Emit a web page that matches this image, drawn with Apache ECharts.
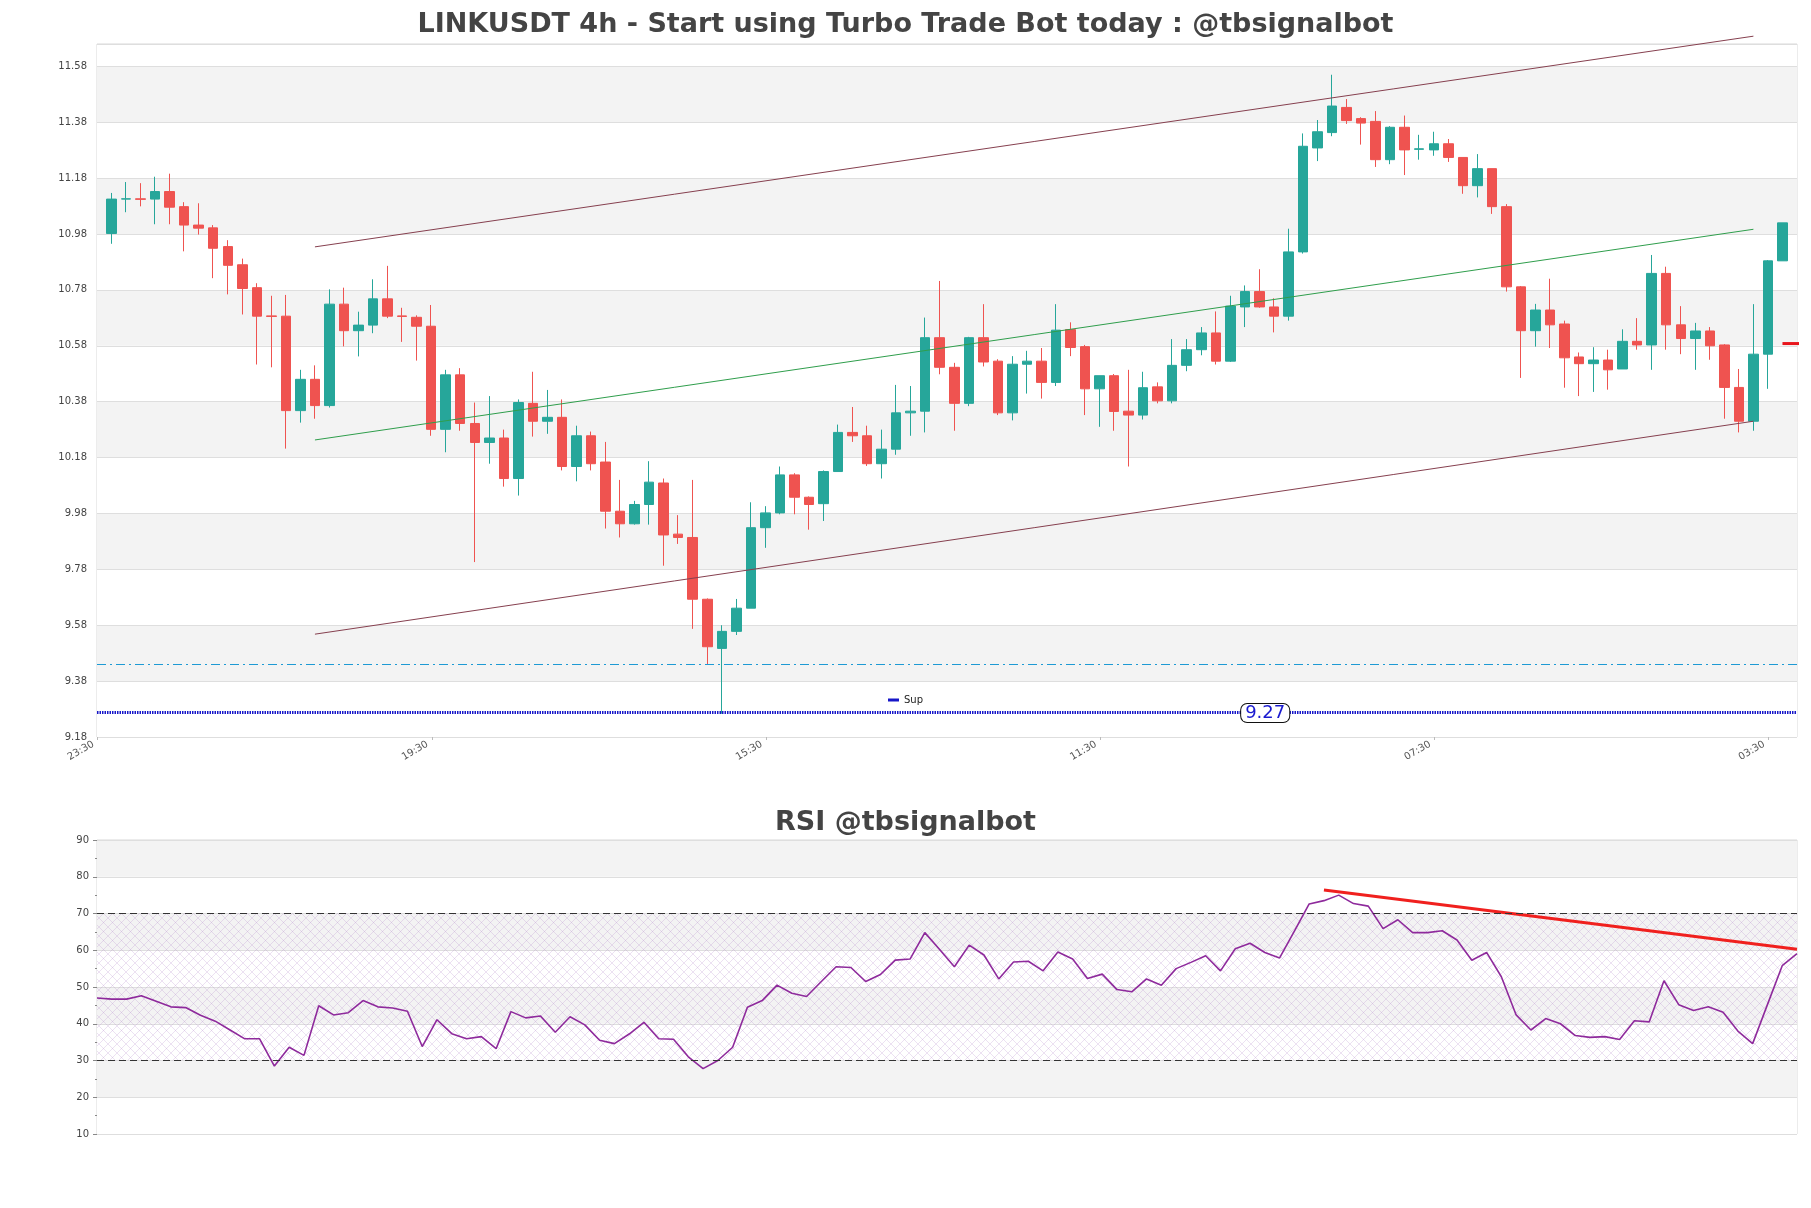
<!DOCTYPE html>
<html>
<head>
<meta charset="utf-8">
<script src="https://cdn.jsdelivr.net/npm/echarts@6/dist/echarts.min.js"></script>
<style>
html, body { margin: 0; padding: 0; background: #fff; }
#chart { width: 1811px; height: 1208px; }
</style>
</head>
<body>
<div id="chart"></div>
<script>
// LINKUSDT 4h candles, oldest first
var opens = [
    10.982, 11.105, 11.106, 11.105, 11.132, 11.078, 11.012, 11.002, 10.935, 10.870,
    10.788, 10.687, 10.686, 10.348, 10.460, 10.366, 10.729, 10.634, 10.654, 10.748,
    10.687, 10.682, 10.650, 10.281, 10.476, 10.302, 10.234, 10.250, 10.105, 10.374,
    10.310, 10.324, 10.148, 10.258, 10.164, 9.988, 9.943, 10.012, 10.089, 9.906,
    9.894, 9.673, 9.497, 9.558, 9.641, 9.929, 9.982, 10.118, 10.038, 10.015,
    10.130, 10.270, 10.258, 10.158, 10.210, 10.340, 10.346, 10.609, 10.503, 10.374,
    10.609, 10.525, 10.340, 10.514, 10.525, 10.449, 10.638, 10.577, 10.426, 10.473,
    10.346, 10.332, 10.433, 10.383, 10.510, 10.566, 10.626, 10.525, 10.719, 10.774,
    10.719, 10.686, 10.916, 11.288, 11.343, 11.433, 11.393, 11.383, 11.246, 11.362,
    11.283, 11.281, 11.303, 11.254, 11.153, 11.214, 11.078, 10.791, 10.634, 10.708,
    10.658, 10.540, 10.516, 10.529, 10.497, 10.596, 10.583, 10.839, 10.655, 10.606,
    10.633, 10.583, 10.431, 10.310, 10.550, 10.884
];
var closes = [
    11.105, 11.106, 11.104, 11.132, 11.076, 11.012, 11.001, 10.929, 10.868, 10.785,
    10.686, 10.685, 10.348, 10.460, 10.366, 10.729, 10.634, 10.654, 10.748, 10.686,
    10.685, 10.650, 10.281, 10.476, 10.302, 10.234, 10.250, 10.105, 10.377, 10.310,
    10.324, 10.148, 10.258, 10.158, 9.988, 9.943, 10.012, 10.092, 9.903, 9.894,
    9.673, 9.503, 9.558, 9.641, 9.929, 9.982, 10.118, 10.038, 10.012, 10.130,
    10.270, 10.258, 10.158, 10.210, 10.340, 10.346, 10.609, 10.503, 10.374, 10.609,
    10.522, 10.340, 10.514, 10.525, 10.449, 10.636, 10.574, 10.426, 10.473, 10.345,
    10.332, 10.430, 10.383, 10.510, 10.566, 10.626, 10.525, 10.722, 10.774, 10.719,
    10.686, 10.916, 11.294, 11.346, 11.438, 11.386, 11.377, 11.246, 11.362, 11.281,
    11.285, 11.303, 11.254, 11.153, 11.214, 11.078, 10.791, 10.634, 10.708, 10.655,
    10.537, 10.516, 10.529, 10.494, 10.596, 10.583, 10.839, 10.655, 10.606, 10.633,
    10.580, 10.431, 10.310, 10.550, 10.884, 11.020
];
var lows = [
    10.945, 11.058, 11.079, 11.015, 11.015, 10.918, 10.978, 10.822, 10.764, 10.692,
    10.513, 10.503, 10.212, 10.305, 10.319, 10.359, 10.578, 10.542, 10.625, 10.679,
    10.594, 10.527, 10.258, 10.199, 10.276, 9.806, 10.158, 10.076, 10.044, 10.255,
    10.265, 10.134, 10.095, 10.134, 9.926, 9.894, 9.940, 9.940, 9.793, 9.871,
    9.567, 9.441, 9.263, 9.545, 9.641, 9.857, 9.977, 9.977, 9.922, 9.953,
    10.130, 10.236, 10.150, 10.105, 10.190, 10.258, 10.270, 10.478, 10.276, 10.364,
    10.506, 10.332, 10.313, 10.409, 10.391, 10.436, 10.543, 10.332, 10.290, 10.276,
    10.148, 10.316, 10.374, 10.374, 10.489, 10.546, 10.513, 10.522, 10.647, 10.716,
    10.628, 10.670, 10.910, 11.241, 11.330, 11.374, 11.300, 11.220, 11.230, 11.191,
    11.246, 11.260, 11.238, 11.124, 11.111, 11.052, 10.774, 10.465, 10.577, 10.572,
    10.430, 10.400, 10.415, 10.423, 10.497, 10.566, 10.494, 10.566, 10.550, 10.494,
    10.530, 10.319, 10.270, 10.276, 10.426, 10.884
];
var highs = [
    11.127, 11.166, 11.162, 11.185, 11.196, 11.094, 11.090, 11.012, 10.958, 10.892,
    10.804, 10.759, 10.762, 10.494, 10.510, 10.782, 10.788, 10.702, 10.818, 10.866,
    10.716, 10.689, 10.726, 10.494, 10.500, 10.377, 10.400, 10.280, 10.388, 10.487,
    10.422, 10.388, 10.294, 10.273, 10.236, 10.100, 10.025, 10.167, 10.105, 9.974,
    10.100, 9.676, 9.580, 9.674, 10.020, 10.006, 10.148, 10.124, 10.041, 10.134,
    10.298, 10.361, 10.294, 10.280, 10.440, 10.436, 10.681, 10.812, 10.519, 10.612,
    10.729, 10.532, 10.543, 10.562, 10.572, 10.729, 10.664, 10.583, 10.473, 10.479,
    10.494, 10.487, 10.449, 10.604, 10.604, 10.647, 10.703, 10.759, 10.796, 10.854,
    10.750, 10.999, 11.340, 11.388, 11.550, 11.463, 11.398, 11.420, 11.366, 11.404,
    11.335, 11.346, 11.320, 11.254, 11.266, 11.214, 11.087, 10.794, 10.730, 10.820,
    10.670, 10.556, 10.575, 10.566, 10.639, 10.679, 10.905, 10.863, 10.722, 10.662,
    10.647, 10.586, 10.497, 10.729, 10.887, 11.020
];
// RSI, one value per candle
var rsi = [
    47.0, 46.7, 46.7, 47.6, 46.1, 44.6, 44.4, 42.3, 40.7, 38.3,
    35.9, 35.9, 28.5, 33.6, 31.4, 44.9, 42.4, 43.0, 46.3, 44.6,
    44.3, 43.4, 33.8, 41.1, 37.3, 35.9, 36.5, 33.2, 43.3, 41.6,
    42.1, 37.7, 41.9, 39.7, 35.5, 34.6, 37.2, 40.4, 35.9, 35.8,
    31.0, 27.8, 30.0, 33.6, 44.5, 46.3, 50.5, 48.3, 47.4, 51.5,
    55.5, 55.3, 51.5, 53.4, 57.3, 57.6, 64.8, 60.2, 55.5, 61.4,
    58.7, 52.2, 56.8, 57.0, 54.4, 59.5, 57.6, 52.3, 53.5, 49.3,
    48.7, 52.2, 50.5, 55.0, 56.7, 58.5, 54.4, 60.4, 61.9, 59.4,
    57.9, 65.2, 72.6, 73.5, 75.0, 72.7, 72.0, 65.9, 68.3, 64.8,
    64.8, 65.3, 62.8, 57.3, 59.4, 52.8, 42.4, 38.3, 41.4, 40.0,
    36.8, 36.3, 36.5, 35.7, 40.8, 40.5, 51.7, 45.2, 43.6, 44.6,
    43.1, 38.0, 34.6, 45.2, 55.8, 59.1
];
// x tick labels (candle index -> time)
var tickIdx = [0, 23, 46, 69, 92, 115];
var tickLabels = ['23:30', '19:30', '15:30', '11:30', '07:30', '03:30'];
// price channel, value at its two end candles
var chanIdx = [14, 113];
var chanUpper = [10.934, 11.688];
var chanMid = [10.243, 10.997];
var chanLower = [9.548, 10.310];
// levels
var supLevel = 9.266;
var resLevel = 9.441;
var lastPrice = 10.588;
// RSI trend line
var rsiTrendIdx = [83, 115];
var rsiTrend = [76.4, 60.3];

var FONT = 'DejaVu Sans';
var n = opens.length;
var tickShift = -0.95; // labels sit a little left of their candle in the original

// crosshatch for the RSI 30-70 zone
function hatchPattern() {
    var c = document.createElement('canvas');
    c.width = 9;
    c.height = 9;
    var g = c.getContext('2d');
    g.strokeStyle = 'rgba(175,130,200,0.30)';
    g.lineWidth = 0.8;
    g.beginPath();
    g.moveTo(0, 0); g.lineTo(9, 9);
    g.moveTo(9, 0); g.lineTo(0, 9);
    g.stroke();
    return c;
}

function twoPoints(xs, ys) {
    return [[xs[0], ys[0]], [xs[1], ys[1]]];
}

var candleData = opens.map(function (o, i) {
    return [i, o, closes[i], lows[i], highs[i]];
});
var rsiData = rsi.map(function (v, i) { return [i, v]; });
var tickPos = tickIdx.map(function (i) { return i + tickShift; });

var myChart = echarts.init(document.getElementById('chart'));
var option = {
    animation: false,
    backgroundColor: '#fff',
    title: [{
        text: 'LINKUSDT 4h - Start using Turbo Trade Bot today : @tbsignalbot',
        left: 'center',
        top: 6,
        textStyle: { fontFamily: FONT, fontWeight: 'bold', fontSize: 27, color: '#444' }
    }, {
        text: 'RSI @tbsignalbot',
        left: 'center',
        top: 804,
        textStyle: { fontFamily: FONT, fontWeight: 'bold', fontSize: 27, color: '#444' }
    }],
    legend: {
        data: [{ name: 'Sup', icon: 'rect' }],
        left: 883,
        top: 690,
        itemWidth: 11,
        itemHeight: 3,
        itemGap: 6,
        selectedMode: false,
        textStyle: { fontFamily: FONT, fontSize: 10, color: '#222' }
    },
    grid: [{
        left: 97, right: 14, top: 44, height: 693,
        show: true, borderColor: '#d9d9d9', borderWidth: 1
    }, {
        left: 97, right: 14, top: 840, height: 294,
        show: true, borderColor: '#d9d9d9', borderWidth: 1
    }],
    xAxis: [{
        type: 'value',
        gridIndex: 0,
        min: -1,
        max: n,
        axisLine: { show: false },
        splitLine: { show: false },
        axisTick: {
            customValues: tickPos,
            length: 3,
            lineStyle: { color: '#bbb' }
        },
        axisLabel: {
            customValues: tickPos,
            formatter: function (v) {
                var k = tickIdx.indexOf(Math.round(v - tickShift));
                return k >= 0 ? tickLabels[k] : '';
            },
            rotate: 30,
            margin: 4,
            padding: [0, 5, 0, 0],
            fontFamily: FONT,
            fontSize: 10,
            color: '#555'
        }
    }, {
        type: 'value',
        gridIndex: 1,
        min: 0,
        max: n - 1,
        axisLine: { show: false },
        axisTick: { show: false },
        axisLabel: { show: false },
        splitLine: { show: false }
    }],
    yAxis: [{
        type: 'value',
        gridIndex: 0,
        min: 9.18,
        max: 11.66,
        interval: 0.2,
        axisLine: { show: false },
        axisTick: { show: false },
        axisLabel: {
            formatter: function (v) { return v.toFixed(2); },
            showMaxLabel: false,
            margin: 10,
            fontFamily: FONT,
            fontSize: 10,
            color: '#444'
        },
        splitLine: { lineStyle: { color: '#dedede', width: 1 } },
        splitArea: { show: true, areaStyle: { color: ['#ffffff', '#f3f3f3'] } }
    }, {
        type: 'value',
        gridIndex: 1,
        min: 10,
        max: 90,
        interval: 10,
        axisLine: { show: false },
        axisTick: { show: true, length: 4, lineStyle: { color: '#888' } },
        minorTick: { show: true, splitNumber: 2, length: 2, lineStyle: { color: '#888' } },
        axisLabel: { margin: 8, fontFamily: FONT, fontSize: 10, color: '#444' },
        splitLine: { lineStyle: { color: '#dedede', width: 1 } },
        splitArea: { show: true, areaStyle: { color: ['#ffffff', '#f3f3f3'] } }
    }],
    series: [
        {
            name: 'candles',
            type: 'candlestick',
            xAxisIndex: 0,
            yAxisIndex: 0,
            data: candleData,
            encode: { x: 0, y: [1, 2, 3, 4] },
            barWidth: 10,
            itemStyle: {
                color: '#26a69a',
                color0: '#ef5350',
                borderColor: '#26a69a',
                borderColor0: '#ef5350',
                borderWidth: 1
            }
        },
        {
            name: 'upper',
            type: 'line',
            data: twoPoints(chanIdx, chanUpper),
            symbol: 'none',
            clip: false,
            lineStyle: { color: '#86404f', width: 1 }
        },
        {
            name: 'mid',
            type: 'line',
            data: twoPoints(chanIdx, chanMid),
            symbol: 'none',
            lineStyle: { color: '#2f9e4c', width: 1 }
        },
        {
            name: 'lower',
            type: 'line',
            data: twoPoints(chanIdx, chanLower),
            symbol: 'none',
            lineStyle: { color: '#86404f', width: 1 }
        },
        {
            name: 'res',
            type: 'line',
            data: [],
            markLine: {
                silent: true,
                symbol: 'none',
                label: { show: false },
                lineStyle: { color: '#1e9ad4', width: 1, type: [9, 4, 2, 4] },
                data: [{ yAxis: resLevel }]
            }
        },
        {
            name: 'Sup',
            type: 'line',
            data: [],
            itemStyle: { color: '#1616c8' },
            markLine: {
                silent: true,
                symbol: 'none',
                label: { show: false },
                lineStyle: { color: '#1616c8', width: 3, type: [1.5, 1] },
                data: [{ yAxis: supLevel }]
            },
            markPoint: {
                silent: true,
                symbol: 'circle',
                symbolSize: 0,
                label: {
                    show: true,
                    position: 'inside',
                    formatter: supLevel.toFixed(2),
                    fontFamily: FONT,
                    fontSize: 18,
                    color: '#1a1ad0',
                    backgroundColor: '#fff',
                    borderColor: '#111',
                    borderWidth: 1,
                    borderRadius: 6,
                    padding: [0, 4, 0, 4]
                },
                data: [{ coord: [79.4, supLevel] }]
            }
        },
        {
            name: 'last',
            type: 'line',
            data: [[n - 1, lastPrice], [n + 0.7, lastPrice]],
            symbol: 'none',
            clip: false,
            lineStyle: { color: '#e8151c', width: 3 }
        },
        {
            name: 'RSI',
            type: 'line',
            xAxisIndex: 1,
            yAxisIndex: 1,
            data: rsiData,
            symbol: 'none',
            lineStyle: { color: '#8e2a9c', width: 1.6 },
            markArea: {
                silent: true,
                itemStyle: { color: { image: hatchPattern(), repeat: 'repeat' } },
                data: [[{ yAxis: 30 }, { yAxis: 70 }]]
            },
            markLine: {
                silent: true,
                symbol: 'none',
                label: { show: false },
                lineStyle: { color: '#333', width: 1, type: [7, 4] },
                data: [{ yAxis: 30 }, { yAxis: 70 }]
            }
        },
        {
            name: 'rsiTrend',
            type: 'line',
            xAxisIndex: 1,
            yAxisIndex: 1,
            data: twoPoints(rsiTrendIdx, rsiTrend),
            symbol: 'none',
            lineStyle: { color: '#f0201e', width: 3 }
        }
    ]
};

option && myChart.setOption(option);
</script>
</body>
</html>
